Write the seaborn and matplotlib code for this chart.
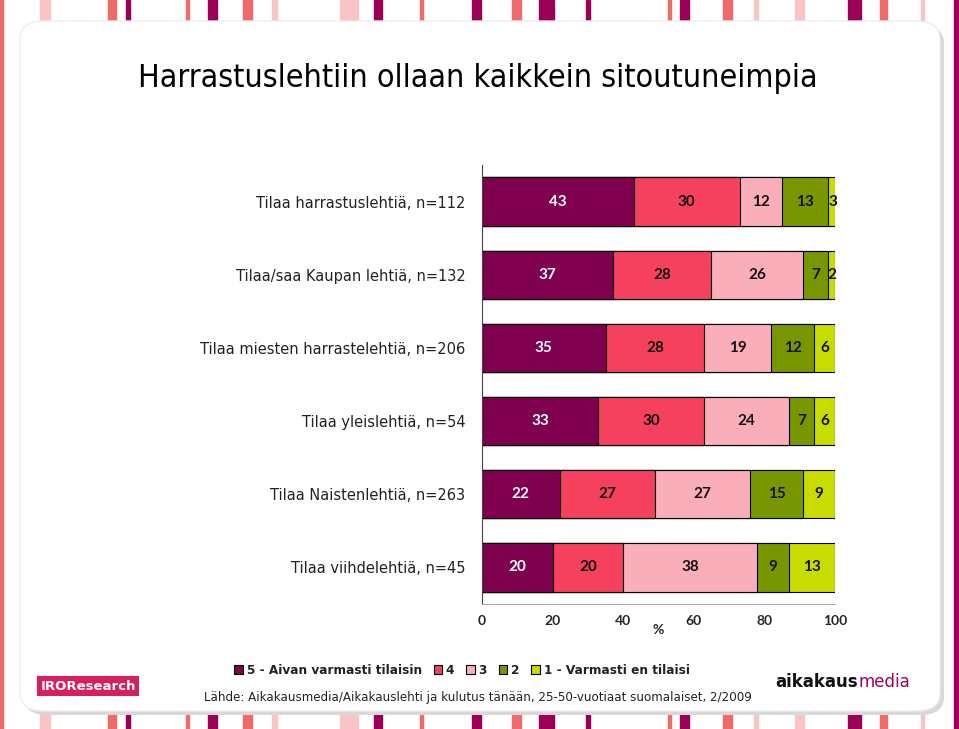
import numpy as np
import pandas as pd
import matplotlib
matplotlib.use("Agg")
import matplotlib.pyplot as plt
import seaborn as sns
from matplotlib.patches import FancyBboxPatch, Rectangle, Patch

# Data
categories = [
    "Tilaa harrastuslehtiä, n=112",
    "Tilaa/saa Kaupan lehtiä, n=132",
    "Tilaa miesten harrastelehtiä, n=206",
    "Tilaa yleislehtiä, n=54",
    "Tilaa Naistenlehtiä, n=263",
    "Tilaa viihdelehtiä, n=45",
]
series = ["5 - Aivan varmasti tilaisin", "4", "3", "2", "1 - Varmasti en tilaisi"]
s5 = [43, 37, 35, 33, 22, 20]
s4 = [30, 28, 28, 30, 27, 20]
s3 = [12, 26, 19, 24, 27, 38]
s2 = [13, 7, 12, 7, 15, 9]
s1 = [3, 2, 6, 6, 9, 13]
colors = ["#7F004F", "#F5405E", "#F9AEBA", "#789600", "#C8DC00"]
label_colors = ["white", "#111111", "#111111", "#111111", "#111111"]
source = "Lähde: Aikakausmedia/Aikakauslehti ja kulutus tänään, 25-50-vuotiaat suomalaiset, 2/2009"
title = "Harrastuslehtiin ollaan kaikkein sitoutuneimpia"

df = pd.DataFrame({"cat": categories, "s5": s5, "s4": s4, "s3": s3, "s2": s2, "s1": s1})
cols = ["s5", "s4", "s3", "s2", "s1"]
cum = df[cols].cumsum(axis=1)

sns.set_style("white")
plt.rcParams["font.family"] = ["DejaVu Sans"]

fig = plt.figure(figsize=(9.59, 7.29), dpi=100)

# decorative background stripes
stripes = [(0, 3, "#F06A6A"), (40, 10, "#F9C4C4"), (108, 8, "#F06A6A"), (126, 4, "#9B0058"),
           (186, 3, "#F06A6A"), (208, 9, "#9B0058"), (243, 9, "#F06A6A"), (272, 5, "#F9C4C4"),
           (340, 18, "#F9C4C4"), (374, 8, "#9B0058"), (420, 3, "#F06A6A"), (472, 9, "#9B0058"),
           (512, 9, "#F06A6A"), (539, 15, "#9B0058"), (586, 4, "#9B0058"), (668, 3, "#F06A6A"),
           (680, 9, "#9B0058"), (723, 9, "#F06A6A"), (754, 4, "#F9C4C4"), (795, 9, "#F9C4C4"),
           (848, 13, "#9B0058"), (880, 7, "#F06A6A"), (921, 3, "#F9C4C4"), (954, 5, "#9B0058")]
for x0, w, c in stripes:
    fig.patches.append(Rectangle((x0 / 959, 0), w / 959, 1, transform=fig.transFigure,
                                 color=c, zorder=0))
fig.patches.append(FancyBboxPatch((24 / 959, 14 / 729), 920 / 959, 690 / 729,
                                  boxstyle="round,pad=0,rounding_size=0.025",
                                  transform=fig.transFigure, fc="#D8D8D8", ec="none", zorder=1))
fig.patches.append(FancyBboxPatch((20 / 959, 18 / 729), 920 / 959, 690 / 729,
                                  boxstyle="round,pad=0,rounding_size=0.025",
                                  transform=fig.transFigure, fc="white", ec="#EEEEEE", zorder=2))

ax = fig.add_axes([482 / 959, 1 - 604 / 729, 353 / 959, 439 / 729])
ax.set_zorder(3)
ax.patch.set_alpha(0)

# stacked bars: draw cumulative totals from the widest down
for i in range(len(cols) - 1, -1, -1):
    sns.barplot(x=cum[cols[i]], y=df["cat"], orient="h", color=colors[i],
                width=0.66, edgecolor="black", linewidth=0.8, ax=ax, saturation=1)

for r in range(len(df)):
    left = 0
    for i, c in enumerate(cols):
        v = df.loc[r, c]
        ax.text(left + v / 2, r, str(v), ha="center", va="center", fontsize=11,
                fontweight="bold", color=label_colors[i], family="Lato")
        left += v

ax.set_xlim(0, 100)
ax.set_ylim(len(df) - 0.5, -0.5)
ax.set_xticks(range(0, 101, 20))
ax.set_xticklabels([str(t) for t in range(0, 101, 20)], fontsize=10, family="Lato",
                   fontweight="bold")
ax.set_yticks(np.arange(len(df)))
ax.set_yticklabels(categories, fontsize=10.5, color="#222222")
ax.set_yticks(np.arange(-0.5, len(df)), minor=True)
ax.tick_params(axis="y", which="major", length=0, pad=12)
ax.tick_params(axis="y", which="minor", length=6, width=0.8, color="#444444", direction="out")
ax.tick_params(axis="x", length=4, width=0.6, color="#999999", direction="in", pad=8)
ax.set_xlabel("%", fontsize=10, family="Lato", fontweight="bold", labelpad=-2)
ax.set_ylabel("")
for s in ["top", "right"]:
    ax.spines[s].set_visible(False)
ax.spines["left"].set_color("#444444")
ax.spines["left"].set_linewidth(0.8)
ax.spines["bottom"].set_color("#AAAAAA")
ax.spines["bottom"].set_linewidth(0.8)

fig.text(138 / 959, 1 - 78 / 729, title, fontsize=23, va="center", ha="left",
         color="black", zorder=4, fontstretch="condensed")

handles = [Patch(facecolor=colors[i], edgecolor="black", linewidth=0.8, label=series[i])
           for i in range(len(series))]
leg = fig.legend(handles=handles, loc="center", bbox_to_anchor=(462 / 959, 1 - 670 / 729),
                 ncol=5, frameon=False, fontsize=8.7, handlelength=0.7, handleheight=0.7,
                 handletextpad=0.3, columnspacing=1.0)
for t in leg.get_texts():
    t.set_fontweight("bold")
    t.set_color("#222222")

fig.text(478 / 959, 1 - 698 / 729, source, fontsize=8.6, ha="center", va="center",
         color="#222222", zorder=4)

# logos
fig.text(88 / 959, 1 - 686 / 729, "IROResearch", fontsize=9.5, fontweight="bold",
         color="white", ha="center", va="center", zorder=4,
         bbox=dict(boxstyle="square,pad=0.25", fc="#D81E5B", ec="none"))
fig.text(858 / 959, 1 - 682 / 729, "aikakaus", fontsize=12, fontweight="bold",
         color="#111111", ha="right", va="center", zorder=4)
fig.text(859 / 959, 1 - 682 / 729, "media", fontsize=12, color="#A0005A",
         ha="left", va="center", zorder=4)

fig.savefig("out.png", dpi=100)
